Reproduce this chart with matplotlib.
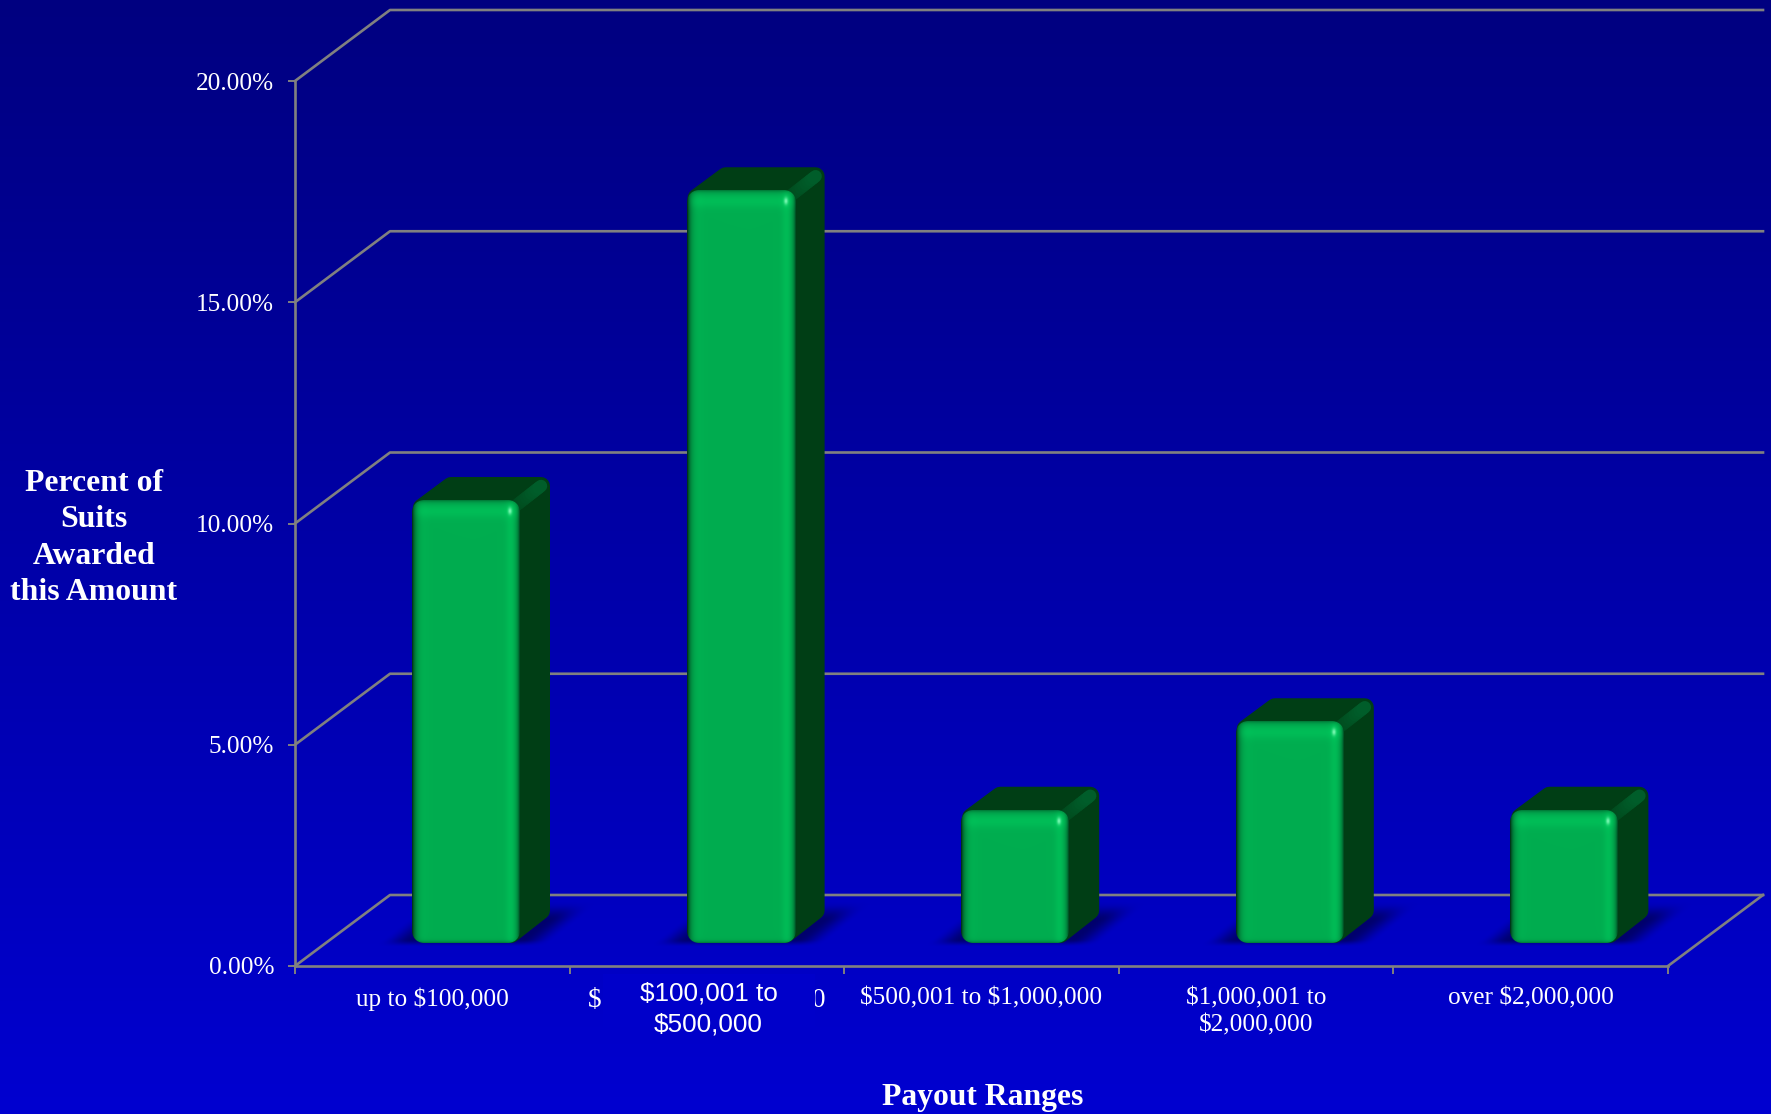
import matplotlib
matplotlib.use("Agg")
import matplotlib.pyplot as plt
from matplotlib.patches import Polygon, Rectangle
from matplotlib.ticker import FuncFormatter
import numpy as np

categories = [
    "up to \\$100,000",
    "\\$100,001 to \\$500,000",
    "\\$500,001 to \\$1,000,000",
    "\\$1,000,001 to\n\\$2,000,000",
    "over \\$2,000,000",
]
values = [10.0, 17.0, 3.0, 5.0, 3.0]
y_ticks = [0, 5, 10, 15, 20]

W, H = 1771, 1114
LEFT, RIGHT, TOP, BOTTOM = 295, 1668, 81, 966
PX_X = 5 / (RIGHT - LEFT)  # data units per pixel
PX_Y = 20 / (BOTTOM - TOP)
GRAY = "#808080"
SERIF = "Liberation Serif"


def smooth(v, a, b):
    t = np.clip((v - a) / (b - a), 0, 1)
    return t * t * (3 - 2 * t)


def face_image(w, h):
    # rounded front of a bar: bevel bands, dark edges and a small glint
    yy, xx = np.mgrid[0:h, 0:w] + 0.5
    dl, dr, dt, db = xx, w - xx, yy, h - yy
    g = np.full((h, w), 173.0)
    g += 16 * np.exp(-(((dr - 9) / 5) ** 2))
    g += 6 * np.exp(-(((dl - 10) / 6) ** 2))
    g += 16 * np.exp(-(((dt - 11) / 7) ** 2))
    shade = (
        1
        - 0.8 * np.exp(-dl / 3.2)
        - 0.65 * np.exp(-dr / 2.4)
        - 0.35 * np.exp(-dt / 2.2)
        - 0.35 * np.exp(-db / 1.6)
    )
    shade = np.clip(shade, 0.15, 1)
    r = np.zeros((h, w))
    b = 0.46 * g
    glint = 0.85 * np.exp(-(((dr - 10) / 2.0) ** 2) - ((dt - 11) / 3.5) ** 2)
    img = np.dstack([r * shade, g * shade, b * shade]) / 255
    spot = np.array([0.55, 1.0, 0.75])
    img = img * (1 - glint[..., None]) + spot * glint[..., None]
    # corners
    rad = 12
    qx = np.maximum(rad - np.minimum(dl, dr), 0)
    qy = np.maximum(rad - np.minimum(dt, db), 0)
    alpha = np.clip(rad - np.hypot(qx, qy) + 0.5, 0, 1)
    return np.dstack([img, alpha])


def shadow_image(w, h, left, right, base):
    # soft slanted shadow on the floor, in pixels relative to the image box
    yy, xx = np.mgrid[0:h, 0:w] + 0.5
    u = xx - (base - yy) * 1.25
    a = smooth(u, left - 34, left - 2) * (1 - smooth(u, right - 2, right + 30))
    a = a * smooth(yy, base - 42, base - 22) * (1 - smooth(yy, base - 4, base + 4))
    img = np.zeros((h, w, 4))
    img[..., 2] = 100 / 255
    img[..., 3] = 0.9 * a
    return img


fig = plt.figure(figsize=(W / 100, H / 100), dpi=100)

# page background, darker at the top
bg = fig.add_axes([0, 0, 1, 1], zorder=0)
grad = np.zeros((256, 1, 3))
grad[:, 0, 2] = np.linspace(128, 208, 256) / 255
bg.imshow(grad, aspect="auto", extent=[0, 1, 0, 1])
bg.axis("off")

ax = fig.add_axes(
    [LEFT / W, 1 - BOTTOM / H, (RIGHT - LEFT) / W, (BOTTOM - TOP) / H], zorder=1
)
ax.patch.set_alpha(0)

# walls and floor depth
wall_dx = 95 * PX_X
wall_dy = 71 * PX_Y
back_right = 5 + wall_dx
for t in y_ticks:
    ax.plot(
        [0, wall_dx, back_right],
        [t, t + wall_dy, t + wall_dy],
        color=GRAY,
        lw=1.9,
        clip_on=False,
        zorder=1,
    )
ax.plot([5, back_right], [0, wall_dy], color=GRAY, lw=1.9, clip_on=False, zorder=1)

# bars
bar_w = 108
bar_off = 117 * PX_X
side_dx = 30 * PX_X
side_dy = 23.5 * PX_Y
base_y = 23 * PX_Y
corner = 9

for i, val in enumerate(values):
    x0 = i + bar_off
    x1 = x0 + bar_w * PX_X
    top = val + base_y

    sx0 = x0 - 40 * PX_X
    sx1 = x1 + 75 * PX_X
    sy0 = base_y - 8 * PX_Y
    sy1 = base_y + 50 * PX_Y
    sw = int(round((sx1 - sx0) / PX_X))
    sh = int(round((sy1 - sy0) / PX_Y))
    ax.imshow(
        shadow_image(sw, sh, 40, 40 + bar_w, 50),
        extent=[sx0, sx1, sy0, sy1],
        aspect="auto",
        zorder=2 + i * 0.1,
        clip_on=False,
    )

    # side and top share one dark outline, stroked to round the corners
    rx = corner * PX_X
    ry = corner * PX_Y
    outline = [
        (x0 + 10 * PX_X, top - 7 * PX_Y),
        (x0 + 39 * PX_X, top + side_dy - ry),
        (x1 + side_dx - rx, top + side_dy - ry),
        (x1 + side_dx - rx, base_y + side_dy + ry),
        (x1 - rx, base_y + ry),
        (x1 - rx, top - ry),
    ]
    ax.add_patch(
        Polygon(
            outline,
            closed=True,
            facecolor="#003e15",
            edgecolor="#003e15",
            lw=corner * 2 * 0.72,
            joinstyle="round",
            clip_on=False,
            zorder=2.2 + i * 0.1,
        )
    )
    # lighter ridge running back from the front corner
    ridge = np.linspace(0, 1, 13)
    for a, b in zip(ridge[:-1], ridge[1:]):
        shade = 0.2 + 0.8 * (a + b) / 2
        ax.plot(
            [x1 - rx + a * side_dx, x1 - rx + b * side_dx],
            [top - ry + a * side_dy, top - ry + b * side_dy],
            color=(0, (62 + 32 * shade) / 255, (21 + 22 * shade) / 255),
            lw=9,
            solid_capstyle="round",
            clip_on=False,
            zorder=2.3 + i * 0.1,
        )

    fw = bar_w
    fh = int(round(val / PX_Y))
    ax.imshow(
        face_image(fw, fh),
        extent=[x0, x1, base_y, top],
        aspect="auto",
        zorder=2.4 + i * 0.1,
        clip_on=False,
    )

ax.set_xlim(0, 5)
ax.set_ylim(0, 20)

for s in ["top", "right"]:
    ax.spines[s].set_visible(False)
for s in ["left", "bottom"]:
    ax.spines[s].set_color(GRAY)
    ax.spines[s].set_linewidth(1.9)

ax.set_yticks(y_ticks)
ax.yaxis.set_major_formatter(FuncFormatter(lambda v, p: f"{v:.2f}%"))
ax.tick_params(
    axis="y", colors=GRAY, labelcolor="white", length=5, width=1.4, pad=10, labelsize=18.2
)
for lab in ax.get_yticklabels():
    lab.set_fontfamily(SERIF)

# boundary ticks, with the category names on minor ticks between them
ax.set_xticks(np.arange(0, 6))
ax.set_xticklabels([])
ax.set_xticks(np.arange(5) + 0.5, minor=True)
x_labels = ax.set_xticklabels(
    categories, minor=True, fontsize=18.2, fontfamily=SERIF, color="white", linespacing=1.3
)
x_labels[1].set_fontsize(19.5)
ax.tick_params(axis="x", which="major", colors=GRAY, length=6, width=1.4)
ax.tick_params(axis="x", which="minor", length=0, pad=15.5)

# typed-over label sitting on a plain patch
ax.add_patch(
    Rectangle(
        (1 + 33 * PX_X, -74 * PX_Y),
        212 * PX_X,
        66 * PX_Y,
        facecolor="#0000ca",
        edgecolor="none",
        clip_on=False,
        zorder=5,
    )
)
ax.text(
    1 + 139 * PX_X,
    -43 * PX_Y,
    "\\$100,001 to\n\\$500,000",
    ha="center",
    va="center",
    color="white",
    fontsize=18.8,
    family="Liberation Sans",
    linespacing=1.38,
    clip_on=False,
    zorder=6,
)

fig.text(
    983 / W,
    1 - 1098 / H,
    "Payout Ranges",
    ha="center",
    va="center",
    color="white",
    fontsize=22.8,
    fontweight="bold",
    family=SERIF,
)
fig.text(
    94 / W,
    1 - 538 / H,
    "Percent of\nSuits\nAwarded\nthis Amount",
    ha="center",
    va="center",
    color="white",
    fontsize=22.9,
    fontweight="bold",
    family=SERIF,
    linespacing=1.32,
)

fig.savefig("out.png", dpi=100)
